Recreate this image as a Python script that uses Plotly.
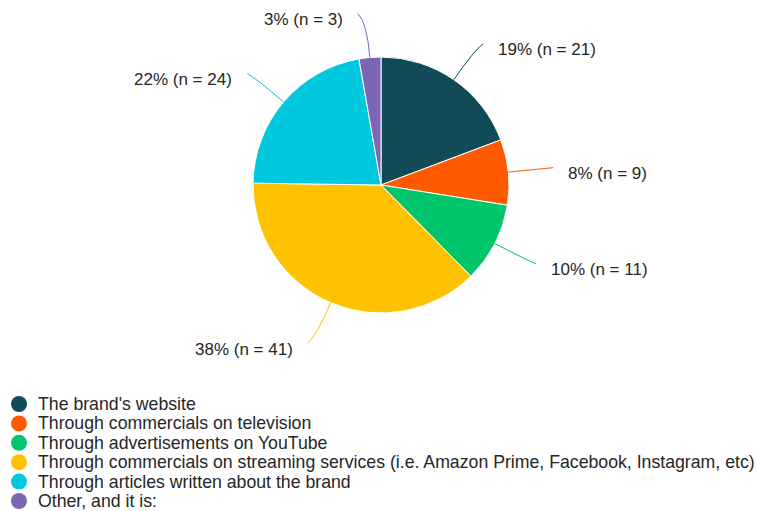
import math
import plotly.graph_objects as go

# Survey responses: how respondents first heard about the brand
categories = [
    "The brand's website",
    "Through commercials on television",
    "Through advertisements on YouTube",
    "Through commercials on streaming services (i.e. Amazon Prime, Facebook, Instagram, etc)",
    "Through articles written about the brand",
    "Other, and it is:",
]
counts = [21, 9, 11, 41, 24, 3]
colors = ["#124b58", "#ff5a00", "#00c56a", "#ffc200", "#00c8df", "#7c65b5"]

W, H = 757, 511
CX, CY, R = 381, 185, 128          # pie centre and radius in pixels
TEXT_COLOR = "#262626"
FONT = "Liberation Sans"

fig = go.Figure()

fig.add_trace(go.Pie(
    labels=categories,
    values=counts,
    marker=dict(colors=colors, line=dict(color="white", width=1)),
    sort=False,
    direction="clockwise",
    rotation=0,
    textinfo="none",
    hoverinfo="label+value+percent",
    showlegend=False,
    domain=dict(x=[(CX - R) / W, (CX + R) / W],
                y=[1 - (CY + R) / H, 1 - (CY - R) / H]),
))

# Outside labels with curved leader lines, placed at each slice's mid-angle
total = sum(counts)
cum = 0
shapes, annotations = [], []
for cat, n, col in zip(categories, counts, colors):
    mid = (cum + n / 2) / total
    cum += n
    ang = 2 * math.pi * mid
    sx, sy = math.sin(ang), -math.cos(ang)
    x0, y0 = CX + R * sx, CY + R * sy
    xc, yc = CX + (R + 36) * sx, CY + (R + 36) * sy
    side = 1 if sx >= 0 else -1
    x1, y1 = xc + side * 9, CY + (R + 44) * sy
    shapes.append(dict(
        type="path", xref="x", yref="y",
        path=f"M {x0:.1f},{y0:.1f} Q {xc:.1f},{yc:.1f} {x1:.1f},{y1:.1f}",
        line=dict(color=col, width=1),
    ))
    pct = round(100 * n / total)
    annotations.append(dict(
        x=x1 + side * 13, y=y1 + 6, xref="x", yref="y",
        text=f"{pct}% (n = {n})", showarrow=False,
        xanchor="left" if side > 0 else "right", yanchor="middle",
        font=dict(family=FONT, size=17, color=TEXT_COLOR),
    ))

# Legend: coloured dots with category names down the lower left
LEG_X, LEG_Y0, LEG_DY = 19, 404, 19.4
fig.add_trace(go.Scatter(
    x=[LEG_X] * len(categories),
    y=[LEG_Y0 + i * LEG_DY for i in range(len(categories))],
    mode="markers",
    marker=dict(size=16, color=colors, line=dict(width=0)),
    hoverinfo="skip",
    showlegend=False,
))
for i, cat in enumerate(categories):
    annotations.append(dict(
        x=36, y=LEG_Y0 + i * LEG_DY, xref="x", yref="y",
        text=cat, showarrow=False, xanchor="left", yanchor="middle",
        font=dict(family=FONT, size=17.7, color=TEXT_COLOR),
    ))

fig.update_layout(
    width=W, height=H,
    margin=dict(l=0, r=0, t=0, b=0),
    paper_bgcolor="white", plot_bgcolor="white",
    xaxis=dict(range=[0, W], visible=False, domain=[0, 1], fixedrange=True),
    yaxis=dict(range=[H, 0], visible=False, domain=[0, 1], fixedrange=True),
    shapes=shapes,
    annotations=annotations,
)

fig.write_html("out.html")
